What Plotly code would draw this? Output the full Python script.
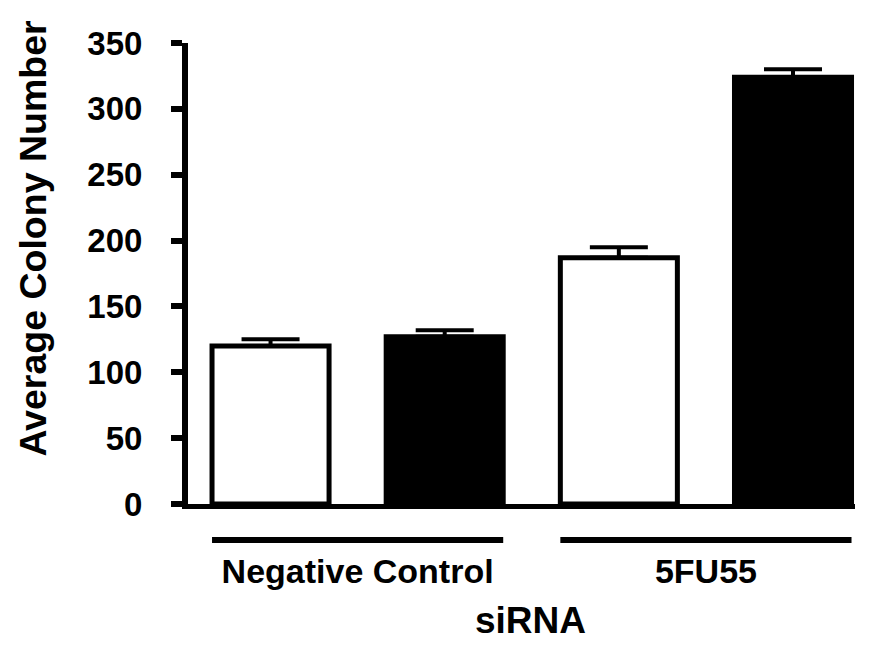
import plotly.graph_objects as go

# ---- data ----
groups = ["Negative Control", "5FU55"]
white_means = [120, 187]
white_errs = [5, 8]
black_means = [127, 324]
black_errs = [5, 6]
y_ticks = [0, 50, 100, 150, 200, 250, 300, 350]

FONT = "Liberation Sans, Arial, sans-serif"

fig = go.Figure()
fig.add_trace(go.Bar(
    x=groups, y=white_means,
    marker=dict(color="white", line=dict(color="black", width=5)),
    error_y=dict(type="data", symmetric=False, array=white_errs,
                 arrayminus=[0] * len(white_errs),
                 color="black", thickness=4, width=29),
    showlegend=False,
))
fig.add_trace(go.Bar(
    x=groups, y=black_means,
    marker=dict(color="black", line=dict(color="black", width=5)),
    error_y=dict(type="data", symmetric=False, array=black_errs,
                 arrayminus=[0] * len(black_errs),
                 color="black", thickness=4, width=29),
    showlegend=False,
))

# group underlines
for i, g in enumerate(groups):
    fig.add_shape(type="line", xref="x", yref="paper",
                  x0=i - 0.418, x1=i + 0.418, y0=-0.078, y1=-0.078,
                  line=dict(color="black", width=6))

fig.add_annotation(text="siRNA", xref="paper", yref="paper",
                   x=0.513, y=-0.253, xanchor="center", yanchor="middle",
                   showarrow=False,
                   font=dict(family=FONT, size=37, color="black", weight="bold"))
fig.add_annotation(text="Average Colony Number", xref="paper", yref="paper",
                   x=-0.233, y=0.577, xanchor="center", yanchor="middle",
                   textangle=-90, showarrow=False,
                   font=dict(family=FONT, size=37.5, color="black", weight="bold"))

fig.update_layout(
    width=856, height=639,
    margin=dict(l=180, r=9, t=35, b=143),
    paper_bgcolor="white", plot_bgcolor="white",
    barmode="group", bargap=0.0, bargroupgap=0.328,
    font=dict(family=FONT, color="black"),
    xaxis=dict(
        range=[-0.487, 1.428], showgrid=False, zeroline=False,
        showline=True, linecolor="black", linewidth=5,
        ticks="", ticklabelstandoff=33,
        tickfont=dict(family=FONT, size=34, color="black", weight="bold"),
    ),
    yaxis=dict(
        range=[0, 350], tickvals=y_ticks, showgrid=False, zeroline=False,
        showline=True, linecolor="black", linewidth=6,
        ticks="outside", ticklen=11, tickwidth=6, tickcolor="black",
        ticklabelstandoff=22,
        tickfont=dict(family=FONT, size=33, color="black", weight="bold"),
    ),
)

fig.write_html("out.html")
